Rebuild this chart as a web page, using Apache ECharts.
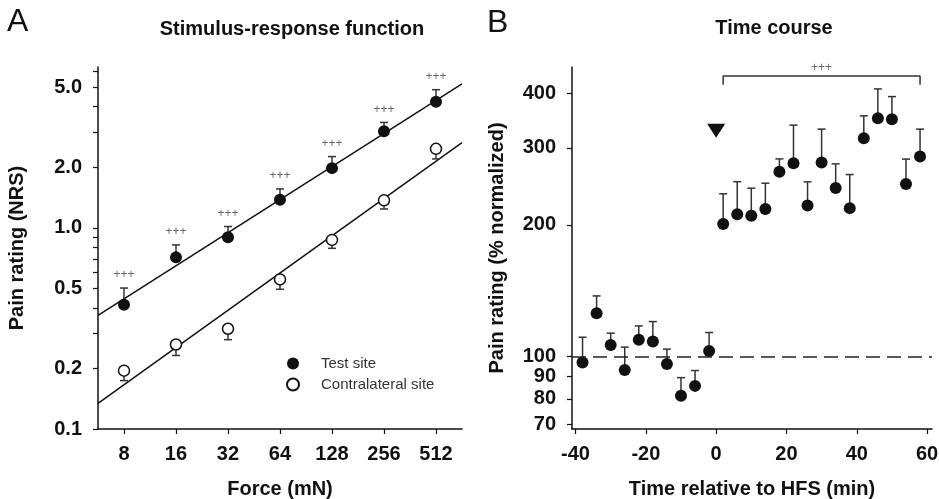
<!DOCTYPE html>
<html>
<head>
<meta charset="utf-8">
<script src="https://cdn.jsdelivr.net/npm/echarts@6/dist/echarts.min.js"></script>
<style>
  html, body { margin: 0; padding: 0; background: #fff; }
  #chart { width: 939px; height: 499px; }
</style>
</head>
<body>
<div id="chart"></div>
<script>
// Panel A: stimulus-response function
const forces = [8, 16, 32, 64, 128, 256, 512];
const testMean = [0.415, 0.713, 0.898, 1.38, 1.98, 3.02, 4.23];
const testUpper = [0.502, 0.822, 1.015, 1.56, 2.26, 3.34, 4.86];
const contraMean = [0.195, 0.263, 0.315, 0.554, 0.871, 1.37, 2.47];
const contraLower = [0.174, 0.232, 0.278, 0.495, 0.791, 1.24, 2.2];
const sigA = ['+++', '+++', '+++', '+++', '+++', '+++', '+++'];
const fitX = [5.657, 724.1];
const testFitY = [0.367, 5.19];
const contraFitY = [0.134, 2.65];
const forceTicks = [8, 16, 32, 64, 128, 256, 512];
const ratingLabels = [0.1, 0.2, 0.5, 1, 2, 5];
const ratingTicks = [0.1, 0.2, 0.3, 0.4, 0.5, 0.6, 0.7, 0.8, 0.9, 1, 2, 3, 4, 5, 6];

// Panel B: time course
const times = [-38, -34, -30, -26, -22, -18, -14, -10, -6, -2,
  2, 6, 10, 14, 18, 22, 26, 30, 34, 38, 42, 46, 50, 54, 58];
const timeMean = [96.9, 125.6, 106.3, 93.2, 109.2, 108.2, 96.1, 81.4, 85.7, 103.0,
  201, 211.6, 209.7, 217.3, 264.4, 276.7, 221.4, 277.6, 242.7, 218.4, 315.6, 350.7, 348.8, 248.1, 286.5];
const timeUpper = [110.7, 137.6, 113.1, 105.1, 117.5, 120.2, 104, 89.5, 92.9, 113.5,
  235.5, 251, 242.6, 249, 283, 338, 250.8, 331, 275.7, 260.6, 354.9, 409, 392.8, 282.7, 331];
const hfsMark = [0, 328];
const bracketX = [2, 2, 58, 58];
const bracketY = [418, 438, 438, 418];
const bracketLabel = [30, 438];
const timeTicks = [-40, -20, 0, 20, 40, 60];
const normTicks = [70, 80, 90, 100, 200, 300, 400];

const ink = '#111';
const bold = { fontSize: 20, fontWeight: 'bold', color: ink };

function errorBar(params, api) {
  const p0 = api.coord([api.value(0), api.value(1)]);
  const p1 = api.coord([api.value(0), api.value(2)]);
  const st = { stroke: '#333', lineWidth: 1.5 };
  return {
    type: 'group',
    children: [
      { type: 'line', shape: { x1: p0[0], y1: p0[1], x2: p1[0], y2: p1[1] }, style: st },
      { type: 'line', shape: { x1: p1[0] - 4, y1: p1[1], x2: p1[0] + 4, y2: p1[1] }, style: st }
    ]
  };
}

function axisBase() {
  return {
    axisLine: { show: true, onZero: false, lineStyle: { color: ink, width: 1.5 } },
    splitLine: { show: false },
    minorTick: { show: false },
    nameTextStyle: bold
  };
}

let myChart = echarts.init(document.getElementById('chart'), null, { renderer: 'canvas' });

const option = {
  animation: false,
  textStyle: { fontFamily: 'Liberation Sans, Arial, sans-serif' },
  title: [
    { text: 'A', left: 7, top: 6, padding: 0, textStyle: { fontSize: 32, fontWeight: 'normal', color: ink } },
    { text: 'Stimulus-response function', left: 292, top: 19, padding: 0, textAlign: 'center', textStyle: { fontSize: 20, fontWeight: 'bold', color: ink } },
    { text: 'B', left: 487, top: 7, padding: 0, textStyle: { fontSize: 32, fontWeight: 'normal', color: ink } },
    { text: 'Time course', left: 774, top: 18, padding: 0, textAlign: 'center', textStyle: { fontSize: 20, fontWeight: 'bold', color: ink } }
  ],
  legend: {
    data: ['Test site', 'Contralateral site'],
    orient: 'vertical',
    left: 281, top: 351,
    itemWidth: 12, itemHeight: 12, itemGap: 6,
    textStyle: { fontSize: 15, color: '#333', padding: [0, 0, 0, 17] }
  },
  grid: [
    { left: 98, right: 477, top: 67, bottom: 70, containLabel: false, outerBoundsMode: 'none' },
    { left: 572, right: 7, top: 67, bottom: 70, containLabel: false, outerBoundsMode: 'none' }
  ],
  xAxis: [
    Object.assign(axisBase(), {
      type: 'log', logBase: 2, gridIndex: 0, min: fitX[0], max: fitX[1],
      name: 'Force (mN)', nameLocation: 'middle', nameGap: 50,
      axisTick: { show: true, length: 5, customValues: forceTicks, lineStyle: { color: ink, width: 1.2 } },
      axisLabel: { customValues: forceTicks, margin: 15, fontSize: 20, fontWeight: 'bold', color: ink, formatter: v => String(Math.round(v)) }
    }),
    Object.assign(axisBase(), {
      type: 'value', gridIndex: 1, min: -41, max: 61.4,
      name: 'Time relative to HFS (min)', nameLocation: 'middle', nameGap: 50,
      axisTick: { show: true, length: 5, customValues: timeTicks, lineStyle: { color: ink, width: 1.2 } },
      axisLabel: { customValues: timeTicks, margin: 15, fontSize: 20, fontWeight: 'bold', color: ink }
    })
  ],
  yAxis: [
    Object.assign(axisBase(), {
      type: 'log', logBase: 10, gridIndex: 0, min: 0.1, max: 6.3,
      name: 'Pain rating (NRS)', nameLocation: 'middle', nameGap: 71,
      axisTick: { show: true, length: 5, customValues: ratingTicks, lineStyle: { color: ink, width: 1.2 } },
      axisLabel: { customValues: ratingLabels, margin: 16, fontSize: 20, fontWeight: 'bold', color: ink, formatter: v => v.toFixed(1) }
    }),
    Object.assign(axisBase(), {
      type: 'log', logBase: 10, gridIndex: 1, min: 68.3, max: 459,
      name: 'Pain rating (% normalized)', nameLocation: 'middle', nameGap: 65,
      axisTick: { show: true, length: 5, customValues: normTicks, lineStyle: { color: ink, width: 1.2 } },
      axisLabel: { customValues: normTicks, margin: 16, fontSize: 20, fontWeight: 'bold', color: ink, formatter: v => String(Math.round(v)) }
    })
  ],
  series: [
    // regression lines
    { type: 'line', xAxisIndex: 0, yAxisIndex: 0, showSymbol: false, silent: true,
      data: fitX.map((x, i) => [x, testFitY[i]]), lineStyle: { color: ink, width: 1.5 }, z: 1 },
    { type: 'line', xAxisIndex: 0, yAxisIndex: 0, showSymbol: false, silent: true,
      data: fitX.map((x, i) => [x, contraFitY[i]]), lineStyle: { color: ink, width: 1.5 }, z: 1 },
    // error bars
    { type: 'custom', xAxisIndex: 0, yAxisIndex: 0, renderItem: errorBar, z: 2,
      encode: { x: 0, y: [1, 2] }, data: forces.map((f, i) => [f, testMean[i], testUpper[i]]) },
    { type: 'custom', xAxisIndex: 0, yAxisIndex: 0, renderItem: errorBar, z: 2,
      encode: { x: 0, y: [1, 2] }, data: forces.map((f, i) => [f, contraMean[i], contraLower[i]]) },
    // points
    { name: 'Test site', type: 'scatter', xAxisIndex: 0, yAxisIndex: 0, symbol: 'circle', symbolSize: 12, z: 3,
      itemStyle: { color: ink, opacity: 1 }, data: forces.map((f, i) => [f, testMean[i]]) },
    { name: 'Contralateral site', type: 'scatter', xAxisIndex: 0, yAxisIndex: 0, symbol: 'circle', symbolSize: 11, z: 3,
      itemStyle: { color: '#fff', borderColor: ink, borderWidth: 1.5, opacity: 1 }, data: forces.map((f, i) => [f, contraMean[i]]) },
    // significance marks
    { type: 'scatter', xAxisIndex: 0, yAxisIndex: 0, symbolSize: 0, silent: true,
      data: forces.map((f, i) => [f, testUpper[i]]),
      label: { show: true, position: 'top', distance: 7, fontSize: 12, color: '#444', formatter: p => sigA[p.dataIndex] } },

    // Panel B
    { type: 'custom', xAxisIndex: 1, yAxisIndex: 1, renderItem: errorBar, z: 2,
      encode: { x: 0, y: [1, 2] }, data: times.map((t, i) => [t, timeMean[i], timeUpper[i]]) },
    { type: 'scatter', xAxisIndex: 1, yAxisIndex: 1, symbol: 'circle', symbolSize: 12, z: 3,
      itemStyle: { color: ink, opacity: 1 }, data: times.map((t, i) => [t, timeMean[i]]),
      markLine: { silent: true, symbol: 'none', label: { show: false },
        lineStyle: { color: '#222', width: 1.5, type: [14, 7] }, data: [{ yAxis: 100 }] } },
    { type: 'scatter', xAxisIndex: 1, yAxisIndex: 1, symbol: 'triangle', symbolRotate: 180, symbolSize: [18, 14], z: 3,
      itemStyle: { color: ink, opacity: 1 }, data: [hfsMark] },
    { type: 'line', xAxisIndex: 1, yAxisIndex: 1, showSymbol: false, silent: true,
      data: bracketX.map((x, i) => [x, bracketY[i]]), lineStyle: { color: '#333', width: 1.5 } },
    { type: 'scatter', xAxisIndex: 1, yAxisIndex: 1, symbolSize: 0, silent: true, data: [bracketLabel],
      label: { show: true, position: 'top', distance: 2, fontSize: 12, color: '#444', formatter: '+++' } }
  ]
};

myChart.setOption(option);
</script>
</body>
</html>
